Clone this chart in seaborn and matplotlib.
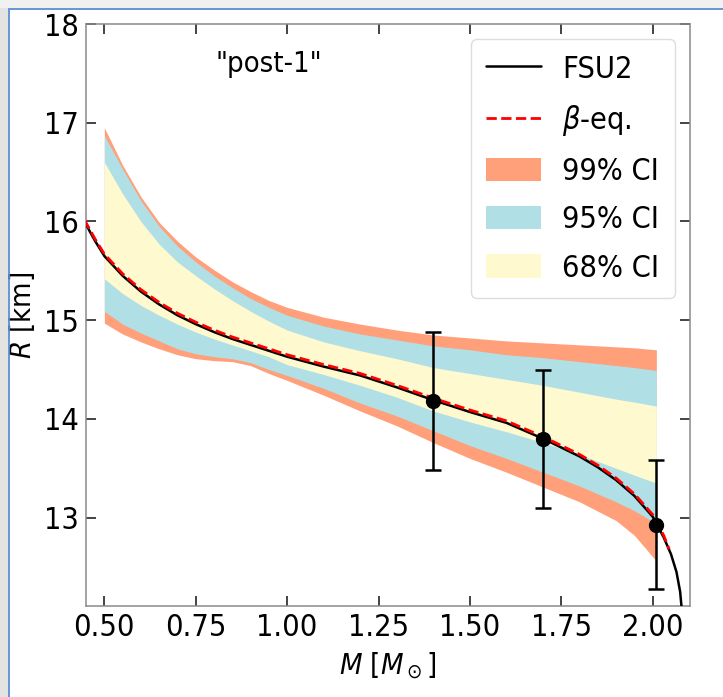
import matplotlib
matplotlib.use("Agg")
import matplotlib.pyplot as plt
from matplotlib.patches import Rectangle, Patch
from matplotlib.lines import Line2D
import seaborn as sns

# FSU2 mass-radius relation
m_fsu2 = [0.445, 0.46, 0.475, 0.50, 0.55, 0.60, 0.65, 0.70, 0.75, 0.80, 0.85,
          0.90, 0.95, 1.00, 1.10, 1.20, 1.30, 1.40, 1.50, 1.60, 1.70, 1.80,
          1.85, 1.90, 1.95, 2.00, 2.03, 2.05, 2.065, 2.075, 2.080]
r_fsu2 = [16.01, 15.90, 15.80, 15.65, 15.45, 15.29, 15.16, 15.05, 14.96, 14.88, 14.81,
          14.75, 14.69, 14.63, 14.53, 14.44, 14.32, 14.19, 14.07, 13.96, 13.80, 13.62,
          13.51, 13.38, 13.22, 13.01, 12.80, 12.63, 12.45, 12.25, 12.05]

# beta-equilibrium sequence
m_beta = [0.445, 0.46, 0.475, 0.50, 0.55, 0.60, 0.65, 0.70, 0.75, 0.80, 0.85,
          0.90, 0.95, 1.00, 1.10, 1.20, 1.30, 1.40, 1.50, 1.60, 1.70, 1.80,
          1.85, 1.90, 1.95, 2.00, 2.03, 2.045]
r_beta = [16.02, 15.92, 15.82, 15.67, 15.47, 15.31, 15.18, 15.07, 14.98, 14.90, 14.83,
          14.77, 14.71, 14.65, 14.55, 14.46, 14.34, 14.21, 14.09, 13.98, 13.82, 13.64,
          13.53, 13.40, 13.24, 13.03, 12.82, 12.68]

# credible intervals of the posterior radius
m_band = [0.50, 0.55, 0.60, 0.65, 0.70, 0.75, 0.80, 0.85, 0.90, 0.95, 1.00,
          1.10, 1.20, 1.30, 1.40, 1.50, 1.60, 1.70, 1.80, 1.90, 1.95, 2.01]
r99_hi = [16.95, 16.57, 16.25, 15.99, 15.80, 15.64, 15.51, 15.39, 15.29, 15.20, 15.13,
          15.03, 14.96, 14.90, 14.85, 14.82, 14.79, 14.77, 14.75, 14.73, 14.72, 14.70]
r95_hi = [16.87, 16.53, 16.21, 15.95, 15.75, 15.59, 15.45, 15.33, 15.22, 15.13, 15.05,
          14.94, 14.86, 14.80, 14.74, 14.70, 14.65, 14.62, 14.58, 14.54, 14.52, 14.49]
r68_hi = [16.60, 16.28, 16.00, 15.77, 15.59, 15.45, 15.32, 15.20, 15.09, 14.99, 14.90,
          14.78, 14.69, 14.61, 14.52, 14.46, 14.40, 14.34, 14.27, 14.20, 14.17, 14.13]
r68_lo = [15.42, 15.27, 15.15, 15.05, 14.96, 14.88, 14.81, 14.75, 14.69, 14.63, 14.55,
          14.45, 14.34, 14.22, 14.08, 13.97, 13.87, 13.76, 13.64, 13.50, 13.43, 13.35]
r95_lo = [15.09, 14.96, 14.87, 14.79, 14.71, 14.66, 14.63, 14.61, 14.57, 14.50, 14.44,
          14.31, 14.16, 14.03, 13.88, 13.73, 13.60, 13.46, 13.32, 13.16, 13.07, 12.94]
r99_lo = [14.97, 14.86, 14.78, 14.71, 14.65, 14.61, 14.59, 14.58, 14.54, 14.46, 14.39,
          14.24, 14.08, 13.93, 13.76, 13.60, 13.46, 13.31, 13.16, 12.97, 12.82, 12.56]

# mock radius measurements
m_obs = [1.40, 1.70, 2.01]
r_obs = [14.18, 13.80, 12.93]
r_err = [0.70, 0.70, 0.65]

c99, c95, c68 = "#FFA07A", "#B0E0E6", "#FFF9D0"

sns.set_style("ticks")
plt.rcParams["font.family"] = ["DejaVu Sans"]
plt.rcParams["font.stretch"] = "condensed"
plt.rcParams["mathtext.fontset"] = "dejavusans"
for key in ["text.color", "axes.labelcolor", "xtick.color", "ytick.color"]:
    plt.rcParams[key] = "black"

fig = plt.figure(figsize=(7.23, 6.97), dpi=100, facecolor="white")

# window frame around the figure
fig.add_artist(Rectangle((0, 0), 8 / 723, 1, transform=fig.transFigure,
                         facecolor="#e3e3e3", edgecolor="none", zorder=0))
fig.add_artist(Rectangle((0, 1 - 8 / 697), 1, 8 / 697, transform=fig.transFigure,
                         facecolor="#f1f1f1", edgecolor="none", zorder=0))
fig.add_artist(Line2D([8.5 / 723, 8.5 / 723], [0, 1 - 8.5 / 697], transform=fig.transFigure,
                      color="#5b8ed1", lw=1.3))
fig.add_artist(Line2D([8.5 / 723, 1], [1 - 8.5 / 697, 1 - 8.5 / 697], transform=fig.transFigure,
                      color="#5b8ed1", lw=1.3))

ax = fig.add_axes([85.7 / 723, 1 - 606 / 697, (690 - 85.7) / 723, (606 - 24) / 697])

ax.fill_between(m_band, r99_lo, r99_hi, color=c99, lw=0, label="99% CI")
ax.fill_between(m_band, r95_lo, r95_hi, color=c95, lw=0, label="95% CI")
ax.fill_between(m_band, r68_lo, r68_hi, color=c68, lw=0, label="68% CI")

sns.lineplot(x=m_fsu2, y=r_fsu2, ax=ax, color="black", lw=1.8, sort=False,
             label="FSU2", zorder=3)
sns.lineplot(x=m_beta, y=r_beta, ax=ax, color="red", lw=2.0, ls="--", sort=False,
             label=r"$\beta$-eq.", zorder=4)

ax.errorbar(m_obs, r_obs, yerr=r_err, fmt="o", color="black", ms=10,
            elinewidth=1.8, capsize=6, capthick=1.8, zorder=5)

ax.set_xlim(0.449, 2.102)
ax.set_ylim(12.105, 18.0)
ax.set_xticks([0.50, 0.75, 1.00, 1.25, 1.50, 1.75, 2.00])
ax.set_xticklabels(["0.50", "0.75", "1.00", "1.25", "1.50", "1.75", "2.00"])
ax.set_yticks([13, 14, 15, 16, 17, 18])

ax.tick_params(axis="both", which="major", direction="in", length=7, width=1.1,
               color="#111111", labelsize=22, top=True, right=True, pad=5)
for s in ax.spines.values():
    s.set_color("#8a8a8a")
    s.set_linewidth(1.1)

ax.set_xlabel(r"$M$ [$M_\odot$]", fontsize=21, labelpad=6)
ax.set_ylabel(r"$R$ [km]", fontsize=21, labelpad=5)

ax.text(0.303, 0.931, '"post-1"', transform=ax.transAxes, ha="center", va="center",
        fontsize=21)

handles = [
    Line2D([], [], color="black", lw=1.8),
    Line2D([], [], color="red", lw=2.0, ls="--"),
    Patch(facecolor=c99, edgecolor="none"),
    Patch(facecolor=c95, edgecolor="none"),
    Patch(facecolor=c68, edgecolor="none"),
]
labels = ["FSU2", r"$\beta$-eq.", "99% CI", "95% CI", "68% CI"]
ax.legend(handles, labels, loc="upper right", fontsize=22, frameon=True,
          handlelength=1.8, handleheight=0.8, labelspacing=0.63,
          borderaxespad=0.5, borderpad=0.5, handletextpad=0.7, fancybox=True,
          edgecolor="#dddddd", framealpha=1.0)

fig.savefig("out.png", dpi=100, facecolor=fig.get_facecolor())
